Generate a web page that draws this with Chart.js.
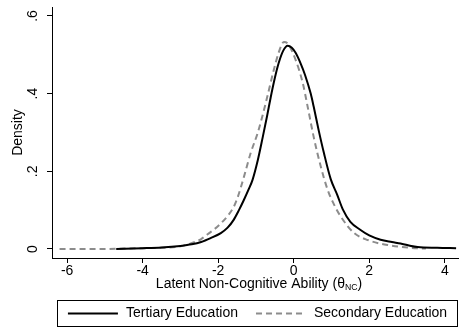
<!DOCTYPE html>
<html>
<head>
<meta charset="utf-8">
<script src="https://cdn.jsdelivr.net/npm/chart.js@4.4.1/dist/chart.umd.min.js"></script>
<style>
  html, body { margin: 0; padding: 0; background: #fff; }
  #wrap { width: 461px; height: 329px; }
</style>
</head>
<body>
<div id="wrap"><canvas id="grafico" width="461" height="329"></canvas></div>
<script>
// densidad estimada de la habilidad no cognitiva, por nivel educativo
const xTerciaria = [-4.7, -4.0, -3.5, -3.0, -2.7, -2.45, -2.2, -1.93, -1.75, -1.59, -1.45, -1.32, -1.2, -1.09,
  -0.95, -0.82, -0.7, -0.61, -0.5, -0.4, -0.28, -0.16, -0.05, 0.05, 0.19, 0.3, 0.45, 0.53, 0.66, 0.8,
  0.98, 1.15, 1.3, 1.5, 1.77, 2.0, 2.3, 2.6, 2.83, 3.05, 3.28, 3.8, 4.3];
const densTerciaria = [0.000, 0.002, 0.004, 0.008, 0.012, 0.018, 0.028, 0.041, 0.055, 0.075, 0.100, 0.126, 0.152, 0.178,
  0.229, 0.288, 0.345, 0.390, 0.440, 0.478, 0.510, 0.523, 0.518, 0.505, 0.476, 0.448, 0.400, 0.366, 0.306, 0.247,
  0.180, 0.140, 0.102, 0.070, 0.049, 0.035, 0.024, 0.018, 0.014, 0.009, 0.005, 0.003, 0.002];

const xSecundaria = [-6.2, -5.0, -4.5, -4.0, -3.5, -3.0, -2.8, -2.46, -2.28, -2.1, -1.93, -1.75, -1.59, -1.48, -1.32,
  -1.14, -0.95, -0.74, -0.53, -0.4, -0.26, -0.15, 0.05, 0.24, 0.37, 0.53, 0.72, 0.9, 1.05, 1.25, 1.6,
  1.96, 2.5, 3.1, 3.5];
const densSecundaria = [0.000, 0.000, 0.001, 0.002, 0.003, 0.007, 0.012, 0.025, 0.038, 0.051, 0.066, 0.085, 0.108, 0.134, 0.185,
  0.247, 0.300, 0.376, 0.460, 0.505, 0.533, 0.528, 0.487, 0.427, 0.366, 0.288, 0.211, 0.152, 0.118, 0.083, 0.041,
  0.023, 0.010, 0.003, 0.001];

const series = ['Tertiary Education', 'Secondary Education'];
const ticksX = [-6, -4, -2, 0, 2, 4];
const ticksY = [0, 0.2, 0.4, 0.6];
const etiquetasY = ['0', '.2', '.4', '.6'];

const fuente = "'Liberation Sans', Arial, sans-serif";
const tamFuente = 14;

function puntos(xs, ys) {
  return xs.map((x, i) => ({ x: x, y: ys[i] }));
}

// etiquetas del eje y giradas, título del eje x con subíndice y leyenda con marco
const decoraciones = {
  id: 'decoraciones',
  afterDraw(chart) {
    const ctx = chart.ctx;
    const area = chart.chartArea;
    const ejeY = chart.scales.y;
    ctx.save();
    ctx.fillStyle = '#000';
    ctx.font = tamFuente + 'px ' + fuente;
    ctx.textAlign = 'center';
    ctx.textBaseline = 'middle';

    ticksY.forEach((v, i) => {
      const py = ejeY.getPixelForValue(v);
      ctx.save();
      ctx.translate(area.left - 19, py);
      ctx.rotate(-Math.PI / 2);
      ctx.fillText(etiquetasY[i], 0, 0);
      ctx.restore();
    });

    // título del eje x: Latent Non-Cognitive Ability (θ_NC)
    const partes = ['Latent Non-Cognitive Ability (\u03B8', 'NC', ')'];
    const fuenteSub = (tamFuente * 0.62) + 'px ' + fuente;
    ctx.font = tamFuente + 'px ' + fuente;
    const w0 = ctx.measureText(partes[0]).width;
    const w2 = ctx.measureText(partes[2]).width;
    ctx.font = fuenteSub;
    const w1 = ctx.measureText(partes[1]).width;
    const total = w0 + w1 + w2;
    let tx = (area.left + area.right) / 2 - total / 2 + 4;
    const ty = area.bottom + 26;
    ctx.textAlign = 'left';
    ctx.font = tamFuente + 'px ' + fuente;
    ctx.fillText(partes[0], tx, ty);
    tx += w0;
    ctx.font = fuenteSub;
    ctx.fillText(partes[1], tx, ty + 4);
    tx += w1;
    ctx.font = tamFuente + 'px ' + fuente;
    ctx.fillText(partes[2], tx, ty);

    // leyenda
    const cajaIzq = area.left + 5, cajaDer = area.right;
    const cajaTop = area.bottom + 42, cajaAlto = 26;
    ctx.strokeStyle = '#000';
    ctx.lineWidth = 1;
    ctx.strokeRect(cajaIzq + 0.5, cajaTop + 0.5, cajaDer - cajaIzq - 1, cajaAlto);

    const muestra = 50, sep = 8, entre = 18;
    const anchos = chart.data.datasets.map(ds => ctx.measureText(ds.label).width);
    const totalLeyenda = anchos.reduce((a, b) => a + b, 0) + 2 * (muestra + sep) + entre;
    let lx = (cajaIzq + cajaDer) / 2 - totalLeyenda / 2;
    const ly = cajaTop + cajaAlto / 2 + 0.5;
    chart.data.datasets.forEach((ds, i) => {
      ctx.save();
      ctx.strokeStyle = ds.borderColor;
      ctx.lineWidth = ds.borderWidth;
      ctx.setLineDash(ds.borderDash || []);
      ctx.beginPath();
      ctx.moveTo(lx, ly);
      ctx.lineTo(lx + muestra, ly);
      ctx.stroke();
      ctx.restore();
      ctx.fillText(ds.label, lx + muestra + sep, ly);
      lx += muestra + sep + anchos[i] + entre;
    });
    ctx.restore();
  }
};

const canvas = document.getElementById('grafico');

const cfg = {
  type: 'line',
  data: {
    datasets: [
      {
        label: series[0],
        data: puntos(xTerciaria, densTerciaria),
        borderColor: '#000000',
        borderWidth: 2,
        pointRadius: 0,
        cubicInterpolationMode: 'monotone',
        fill: false
      },
      {
        label: series[1],
        data: puntos(xSecundaria, densSecundaria),
        borderColor: '#8c8c8c',
        borderWidth: 2,
        borderDash: [6, 4],
        pointRadius: 0,
        cubicInterpolationMode: 'monotone',
        fill: false
      }
    ]
  },
  options: {
    responsive: false,
    animation: false,
    devicePixelRatio: 1,
    layout: { padding: { top: 7, right: 3, left: 0, bottom: 0 } },
    plugins: {
      legend: { display: false },
      tooltip: { enabled: false }
    },
    scales: {
      x: {
        type: 'linear',
        min: -6.4,
        max: 4.35,
        afterBuildTicks: s => { s.ticks = ticksX.map(v => ({ value: v })); },
        afterFit: s => { s.height = 71; },
        ticks: {
          color: '#000',
          font: { family: fuente, size: tamFuente },
          padding: 0,
          maxRotation: 0,
          callback: v => String(v)
        },
        grid: { display: true, drawOnChartArea: false, drawTicks: true, tickLength: 5, color: '#000', lineWidth: 1 },
        border: { display: true, color: '#000', width: 1 }
      },
      y: {
        type: 'linear',
        min: -0.0232,
        max: 0.623,
        afterBuildTicks: s => { s.ticks = ticksY.map(v => ({ value: v })); },
        afterFit: s => { s.width = 52; },
        ticks: { display: false },
        title: {
          display: true,
          text: 'Density',
          color: '#000',
          font: { family: fuente, size: tamFuente },
          padding: { top: 10, bottom: 0 }
        },
        grid: { display: true, drawOnChartArea: false, drawTicks: true, tickLength: 5, color: '#000', lineWidth: 1 },
        border: { display: true, color: '#000', width: 1 }
      }
    }
  },
  plugins: [decoraciones]
};

const grafico = new Chart(canvas, cfg);
</script>
</body>
</html>
